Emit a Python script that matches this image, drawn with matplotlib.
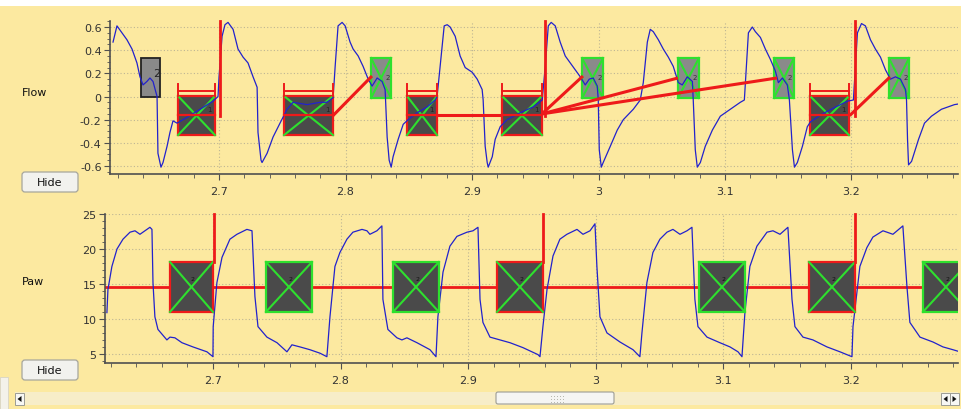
import matplotlib.pyplot as plt
from matplotlib.patches import Rectangle, FancyBboxPatch, Polygon
from matplotlib.ticker import MultipleLocator, FuncFormatter

# ---- flow trace (s, L/s) ----
flow_t = [2.6162, 2.6193, 2.6272, 2.6312, 2.6351, 2.6375, 2.6399, 2.6430, 2.6454, 2.6478,
          2.6510, 2.6517, 2.6541, 2.6557, 2.6589, 2.6612, 2.6636, 2.6668, 2.6747, 2.6850,
          2.6953, 2.6992, 2.7000, 2.7024, 2.7047, 2.7071, 2.7111, 2.7150, 2.7190, 2.7229,
          2.7269, 2.7301, 2.7308, 2.7332, 2.7340, 2.7380, 2.7427, 2.7482, 2.7538, 2.7585,
          2.7696, 2.7799, 2.7854, 2.7902, 2.7918, 2.7941, 2.7973, 2.7997, 2.8036, 2.8060,
          2.8100, 2.8139, 2.8179, 2.8210, 2.8250, 2.8289, 2.8313, 2.8329, 2.8345, 2.8361,
          2.8376, 2.8416, 2.8456, 2.8495, 2.8566, 2.8645, 2.8709, 2.8724, 2.8748, 2.8780,
          2.8804, 2.8827, 2.8867, 2.8906, 2.8946, 2.9001, 2.9041, 2.9080, 2.9088, 2.9104,
          2.9120, 2.9128, 2.9160, 2.9183, 2.9223, 2.9278, 2.9381, 2.9484, 2.9555, 2.9579,
          2.9603, 2.9626, 2.9658, 2.9697, 2.9737, 2.9777, 2.9816, 2.9856, 2.9895, 2.9927,
          2.9958, 2.9990, 2.9998, 3.0006, 3.0022, 3.0037, 3.0093, 3.0148, 3.0196, 3.0275,
          3.0330, 3.0354, 3.0386, 3.0409, 3.0433, 3.0473, 3.0512, 3.0552, 3.0591, 3.0631,
          3.0662, 3.0702, 3.0742, 3.0749, 3.0765, 3.0781, 3.0805, 3.0844, 3.0900, 3.0963,
          3.1042, 3.1121, 3.1153, 3.1169, 3.1185, 3.1216, 3.1240, 3.1280, 3.1319, 3.1359,
          3.1398, 3.1422, 3.1454, 3.1493, 3.1509, 3.1533, 3.1549, 3.1572, 3.1612, 3.1651,
          3.1675, 3.1754, 3.1857, 3.1968, 3.2015, 3.2031, 3.2047, 3.2079, 3.2110, 3.2150,
          3.2189, 3.2229, 3.2269, 3.2308, 3.2348, 3.2387, 3.2427, 3.2435, 3.2443, 3.2451,
          3.2475, 3.2530, 3.2577, 3.2632, 3.2711, 3.2814, 3.2870]
flow_v = [0.47, 0.61, 0.49, 0.41, 0.29, 0.17, 0.10, 0.13, 0.16, 0.13,
          0.00, -0.49, -0.61, -0.57, -0.43, -0.31, -0.21, -0.23, -0.18, -0.11,
          -0.04, 0.00, 0.17, 0.52, 0.62, 0.64, 0.58, 0.41, 0.34, 0.29,
          0.17, 0.08, -0.31, -0.55, -0.57, -0.49, -0.35, -0.23, -0.11, -0.05,
          -0.07, -0.05, -0.05, -0.01, 0.26, 0.61, 0.64, 0.61, 0.47, 0.41,
          0.35, 0.26, 0.15, 0.09, 0.16, 0.13, 0.06, -0.35, -0.55, -0.61,
          -0.52, -0.37, -0.24, -0.20, -0.14, -0.09, -0.03, 0.00, 0.26, 0.61,
          0.62, 0.60, 0.52, 0.35, 0.25, 0.21, 0.15, 0.06, -0.03, -0.43,
          -0.57, -0.61, -0.52, -0.37, -0.26, -0.20, -0.14, -0.09, -0.03, 0.26,
          0.61, 0.64, 0.61, 0.47, 0.35, 0.29, 0.23, 0.17, 0.10, 0.15,
          0.16, 0.09, -0.03, -0.46, -0.61, -0.57, -0.43, -0.29, -0.20, -0.11,
          -0.03, 0.12, 0.47, 0.58, 0.56, 0.49, 0.41, 0.34, 0.26, 0.12,
          0.10, 0.17, 0.13, -0.03, -0.46, -0.61, -0.57, -0.43, -0.29, -0.17,
          -0.11, -0.05, -0.03, 0.26, 0.55, 0.60, 0.56, 0.51, 0.41, 0.32,
          0.22, 0.12, 0.16, 0.10, -0.03, -0.46, -0.61, -0.57, -0.43, -0.26,
          -0.22, -0.16, -0.10, -0.04, -0.03, 0.26, 0.55, 0.63, 0.61, 0.49,
          0.41, 0.34, 0.23, 0.15, 0.17, 0.15, 0.06, -0.03, -0.37, -0.59,
          -0.56, -0.37, -0.23, -0.17, -0.11, -0.07, -0.06]

# ---- airway pressure trace (s, cmH2O) ----
paw_t = [2.6169, 2.6177, 2.6208, 2.6248, 2.6295, 2.6350, 2.6389, 2.6428, 2.6506, 2.6522,
         2.6530, 2.6545, 2.6569, 2.6639, 2.6663, 2.6702, 2.6757, 2.6843, 2.6953, 2.7000,
         2.7002, 2.7031, 2.7071, 2.7133, 2.7188, 2.7266, 2.7306, 2.7329, 2.7353, 2.7423,
         2.7502, 2.7580, 2.7619, 2.7682, 2.7760, 2.7839, 2.7893, 2.7917, 2.7956, 2.7995,
         2.8050, 2.8097, 2.8168, 2.8207, 2.8230, 2.8285, 2.8324, 2.8332, 2.8371, 2.8442,
         2.8481, 2.8520, 2.8599, 2.8701, 2.8748, 2.8763, 2.8803, 2.8857, 2.8912, 2.8991,
         2.9038, 2.9077, 2.9093, 2.9116, 2.9171, 2.9249, 2.9328, 2.9429, 2.9547, 2.9563,
         2.9586, 2.9618, 2.9665, 2.9719, 2.9774, 2.9853, 2.9900, 2.9955, 2.9994, 3.0009,
         3.0033, 3.0088, 3.0190, 3.0292, 3.0346, 3.0362, 3.0401, 3.0448, 3.0503, 3.0558,
         3.0605, 3.0660, 3.0715, 3.0754, 3.0777, 3.0801, 3.0872, 3.0973, 3.1052, 3.1115,
         3.1146, 3.1169, 3.1208, 3.1263, 3.1342, 3.1389, 3.1444, 3.1506, 3.1538, 3.1561,
         3.1624, 3.1702, 3.1812, 3.1914, 3.2008, 3.2016, 3.2070, 3.2125, 3.2172, 3.2251,
         3.2329, 3.2407, 3.2439, 3.2462, 3.2541, 3.2643, 3.2721, 3.2799, 3.2854]
paw_v = [10.9, 14.2, 17.5, 20.0, 21.4, 22.4, 22.6, 22.1, 23.1, 22.8,
         15.2, 10.3, 8.5, 7.0, 7.4, 7.3, 6.6, 6.0, 5.3, 4.6,
         8.9, 15.2, 18.8, 21.4, 22.1, 22.8, 22.6, 13.2, 8.9, 7.4,
         6.6, 5.3, 6.3, 6.0, 5.6, 5.1, 4.6, 10.3, 17.5, 19.5,
         21.4, 22.4, 22.8, 22.6, 22.1, 22.6, 23.3, 12.8, 8.5, 7.3,
         7.0, 7.3, 6.6, 5.6, 4.6, 10.3, 16.7, 20.4, 21.8, 22.4,
         22.6, 23.1, 12.8, 9.5, 7.4, 7.0, 6.6, 5.9, 4.9, 4.6,
         8.9, 14.2, 19.0, 21.4, 22.1, 22.8, 22.1, 22.6, 23.6, 17.5,
         10.3, 8.0, 6.7, 5.6, 4.6, 8.0, 15.2, 19.5, 21.4, 22.4,
         22.8, 22.1, 22.6, 23.1, 12.8, 8.9, 7.4, 6.6, 6.0, 5.3,
         4.6, 10.9, 17.5, 20.4, 22.4, 22.6, 22.1, 23.1, 12.8, 8.9,
         7.4, 7.0, 6.0, 5.3, 4.6, 8.9, 17.5, 20.2, 21.7, 22.6,
         22.1, 23.3, 14.6, 9.5, 7.4, 6.7, 6.0, 5.6, 5.3]

# ---- event markers, flow panel ----
grey_x = [2.6383, 2.6534]            # single grey marker
grey_y = [-0.004, 0.332]
dark_x0 = [2.6676, 2.7514, 2.8486, 2.9237, 3.1672]
dark_x1 = [2.6968, 2.7901, 2.8723, 2.9553, 3.1980]
dark_y = [-0.333, 0.004]
dark_mid = -0.16
bracket_top, bracket_bar = 0.107, 0.047
green_x0 = [2.8202, 2.9870, 3.0628, 3.1387, 3.2296]
green_x1 = [2.8360, 3.0036, 3.0794, 3.1545, 3.2455]
green_y = [-0.013, 0.332]
flow_cursor = [2.7008, 2.9577, 3.2028]
flow_cursor_low = -0.165
link_x0 = [2.7901, 2.8723, 2.9553, 2.9553, 2.9553, 3.1985]
link_y0 = [-0.165, -0.16, -0.150, -0.150, -0.150, -0.165]
link_x1 = [2.8209, 2.9237, 2.9877, 3.0628, 3.1411, 3.2304]
link_y1 = [0.177, -0.16, 0.177, 0.160, 0.160, 0.168]

# ---- event markers, paw panel ----
paw_box_x0 = [2.6663, 2.7415, 2.8411, 2.9226, 3.0809, 3.1671, 3.2564]
paw_box_x1 = [2.7000, 2.7776, 2.8771, 2.9586, 3.1169, 3.2031, 3.2924]
paw_box_red = [True, False, False, True, False, True, False]
paw_box_y = [11.0, 18.14]
paw_level = 14.55
paw_cursor = [2.7008, 2.9590, 3.2031]

W, H = 961, 410
BG = '#FCE9A0'
RED = '#EE1A1A'
GREEN = '#2EE02E'
DARK = '#4A4A4A'
BLUE = '#2222CC'

plt.rcParams['axes.unicode_minus'] = False
plt.rcParams['font.family'] = ['DejaVu Sans']

fig = plt.figure(figsize=(W / 100, H / 100), dpi=100, facecolor=BG)


def frac(x0, y0, x1, y1):
    # pixel box, origin top-left -> figure fraction
    return [x0 / W, 1 - y1 / H, (x1 - x0) / W, (y1 - y0) / H]


def inch(x, y):
    return x / 100, (H - y) / 100


def style_axes(ax):
    ax.set_facecolor('none')
    for s in ['top', 'right']:
        ax.spines[s].set_visible(False)
    for s in ['left', 'bottom']:
        ax.spines[s].set_color('#505050')
        ax.spines[s].set_linewidth(1.2)
    ax.grid(which='major', color='#BDB594', ls=(0, (1, 2)), lw=0.8, zorder=0)
    ax.xaxis.set_major_locator(MultipleLocator(0.1))
    ax.xaxis.set_minor_locator(MultipleLocator(0.02))
    ax.xaxis.set_major_formatter(FuncFormatter(lambda v, p: '%g' % round(v, 3)))
    ax.tick_params(which='both', colors='#505050', labelcolor='#333333', labelsize=8, direction='out')
    ax.tick_params(axis='x', which='major', length=4, pad=5)
    ax.tick_params(axis='x', which='minor', length=3)
    ax.tick_params(axis='y', which='major', length=4, pad=2)
    ax.tick_params(axis='y', which='minor', length=2.5)


def xbox(ax, x0, x1, y0, y1, fc, ec, z=3):
    ax.add_patch(Rectangle((x0, y0), x1 - x0, y1 - y0, fc=fc, ec=ec, lw=1.6, zorder=z))
    ax.plot([x0, x1], [y0, y1], color=GREEN, lw=1.5, zorder=z + 0.1)
    ax.plot([x0, x1], [y1, y0], color=GREEN, lw=1.5, zorder=z + 0.1)


# ---------------- Flow panel ----------------
ax1 = fig.add_axes(frac(110, 22, 958, 175))
style_axes(ax1)
ax1.set_xlim(2.6138, 3.2842)
ax1.set_ylim(-0.669, 0.652)
ax1.yaxis.set_major_locator(MultipleLocator(0.2))
ax1.yaxis.set_minor_locator(MultipleLocator(0.05))
ax1.yaxis.set_major_formatter(FuncFormatter(lambda v, p: '%g' % round(v, 2)))

ax1.add_patch(Rectangle((grey_x[0], grey_y[0]), grey_x[1] - grey_x[0], grey_y[1] - grey_y[0],
                        fc='#8A8A8A', ec='#222222', lw=1.3, zorder=3))
ax1.text(grey_x[1] - 0.003, 0.2, '2', fontsize=8, color='#222222', ha='center', va='center', zorder=6)

for x0, x1 in zip(green_x0, green_x1):
    xbox(ax1, x0, x1, green_y[0], green_y[1], '#8A8A8A', GREEN)
    ax1.text(x1 - 0.003, 0.17, '2', fontsize=5, color='#333333', ha='center', va='center', zorder=6)

for x0, x1 in zip(dark_x0, dark_x1):
    xbox(ax1, x0, x1, dark_y[0], dark_y[1], DARK, RED)
    ax1.plot([x0, x1], [dark_mid, dark_mid], color=RED, lw=1.6, zorder=5)
    ax1.text(x1 - 0.004, -0.11, '1', fontsize=5, color='#222222', ha='center', va='center', zorder=6)
    ax1.plot([x0, x0], [dark_y[1], bracket_top], color=RED, lw=1.4, zorder=5)
    ax1.plot([x1, x1], [dark_y[1], bracket_top], color=RED, lw=1.4, zorder=5)
    ax1.plot([x0, x1], [bracket_bar, bracket_bar], color=RED, lw=1.4, zorder=5)

for a, b, c, d in zip(link_x0, link_y0, link_x1, link_y1):
    ax1.plot([a, c], [b, d], color=RED, lw=2.2, zorder=5, solid_capstyle='butt')

for x in flow_cursor:
    ax1.plot([x, x], [flow_cursor_low, 0.652], color=RED, lw=2, zorder=5, clip_on=False)

ax1.plot(flow_t, flow_v, color=BLUE, lw=0.9, zorder=4.5)

# ---------------- Paw panel ----------------
ax2 = fig.add_axes(frac(105, 215, 958, 364))
style_axes(ax2)
ax2.set_xlim(2.6154, 3.2839)
ax2.set_ylim(3.7, 25)
ax2.yaxis.set_major_locator(MultipleLocator(5))
ax2.yaxis.set_minor_locator(MultipleLocator(1))

ax2.axhline(paw_level, color=RED, lw=2, zorder=2)
ax2.plot(paw_t, paw_v, color=BLUE, lw=0.9, zorder=2.5)
for x0, x1, red in zip(paw_box_x0, paw_box_x1, paw_box_red):
    xbox(ax2, x0, x1, paw_box_y[0], paw_box_y[1], DARK, RED if red else GREEN)
    ax2.text((x0 + x1) / 2 + 0.001, 15.8, '2', fontsize=4.5, color='#111111',
             ha='center', va='center', zorder=6, clip_on=True)
for x in paw_cursor:
    ax2.plot([x, x], [paw_box_y[1], 25], color=RED, lw=2, zorder=5, clip_on=False)

# ---------------- widgets ----------------
fig.add_artist(Rectangle(inch(0, 7), W / 100, 7 / 100, transform=fig.dpi_scale_trans,
                         fc='white', ec='none'))
fig.text(22 / W, 1 - 93 / H, 'Flow', fontsize=8, color='#111111', va='center')
fig.text(22 / W, 1 - 282 / H, 'Paw', fontsize=8, color='#111111', va='center')

for top in [173, 361]:
    fig.add_artist(FancyBboxPatch(inch(22, top + 20), 0.56, 0.20,
                                  boxstyle='round,pad=0,rounding_size=0.03',
                                  transform=fig.dpi_scale_trans, fc='#F2F2EE', ec='#A6A69C', lw=0.9))
    fig.text(50 / W, 1 - (top + 10) / H, 'Hide', fontsize=8, color='#111111', ha='center', va='center')

# scrollbar
fig.add_artist(Rectangle(inch(0, 410), 8 / 100, 32 / 100, transform=fig.dpi_scale_trans,
                         fc='#F4F2EA', ec='#D8D4C4', lw=0.6))
fig.add_artist(Rectangle(inch(15, 406), 943 / 100, 13 / 100, transform=fig.dpi_scale_trans,
                         fc='#F7EDC8', ec='none'))
fig.add_artist(FancyBboxPatch(inch(496, 405), 1.18, 0.12, boxstyle='round,pad=0,rounding_size=0.02',
                              transform=fig.dpi_scale_trans, fc='#F5F5F3', ec='#9C9C94', lw=0.8))
for gx in [551, 554, 557, 560, 563]:
    for gy in [397, 400, 403]:
        fig.add_artist(Rectangle(inch(gx, gy + 1), 0.01, 0.01, transform=fig.dpi_scale_trans,
                                 fc='#B8B8B0', ec='none'))
for bx, d in [(15, -1), (941, -1), (950, 1)]:
    fig.add_artist(Rectangle(inch(bx, 406), 0.09, 0.12, transform=fig.dpi_scale_trans,
                             fc='#F7F7F4', ec='#9C9C94', lw=0.7))
    cx, cy = bx + 4.5, 400
    pts = [inch(cx - 2 * d, cy - 3), inch(cx - 2 * d, cy + 3), inch(cx + 2 * d, cy)]
    fig.add_artist(Polygon(pts, closed=True, transform=fig.dpi_scale_trans, fc='#111111', ec='none'))

fig.savefig('out.png', dpi=100, facecolor=BG)
